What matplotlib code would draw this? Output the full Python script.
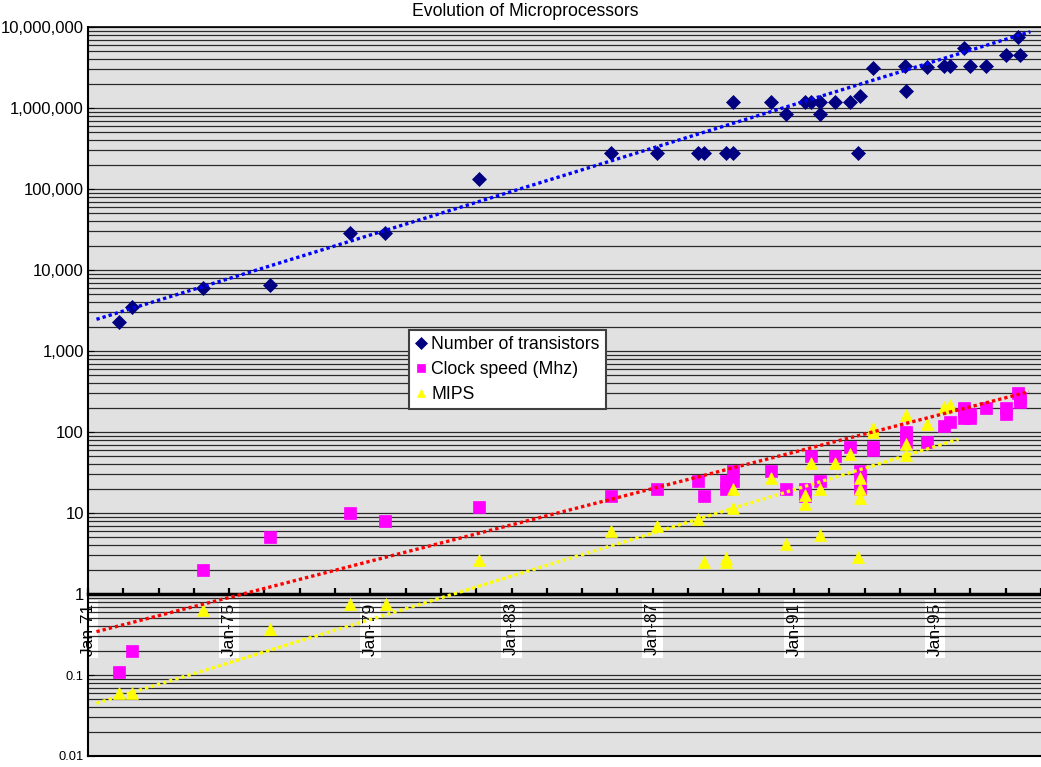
import numpy as np
import matplotlib
matplotlib.use('Agg')
import matplotlib.pyplot as plt
from matplotlib.ticker import FixedLocator, FixedFormatter, LogLocator, MultipleLocator, NullFormatter

plt.rcParams['font.family'] = ['Liberation Sans', 'DejaVu Sans']

# --- data (dates as fractional years) ---
transistor_dates = [1971.88, 1972.26, 1974.25, 1976.17, 1978.43, 1979.42, 1982.09,
                    1985.81, 1987.13, 1988.27, 1988.45, 1989.07, 1989.27, 1989.27,
                    1990.34, 1990.78, 1991.30, 1991.47, 1991.73, 1991.75, 1992.17,
                    1992.60, 1992.81, 1992.86, 1993.23, 1994.16, 1994.18, 1994.77,
                    1995.24, 1995.43, 1995.83, 1996.00, 1996.44, 1997.01, 1997.34,
                    1997.41]
transistor_counts = [2300, 3500, 6000, 6500, 29000, 29000, 134000,
                     275000, 275000, 275000, 275000, 275000, 275000, 1200000,
                     1200000, 855000, 1200000, 1200000, 1200000, 855000, 1200000,
                     1200000, 275000, 1400000, 3100000, 3300000, 1600000, 3200000,
                     3300000, 3300000, 5500000, 3300000, 3300000, 4500000, 7500000,
                     4500000]

clock_dates = [1971.88, 1972.26, 1974.25, 1976.17, 1978.43, 1979.42, 1982.09,
               1985.81, 1987.13, 1988.27, 1988.45, 1989.07, 1989.07, 1989.27,
               1989.27, 1990.36, 1990.78, 1991.30, 1991.30, 1991.47, 1991.73,
               1992.17, 1992.60, 1992.86, 1992.86, 1992.86, 1993.23, 1993.23,
               1994.18, 1994.18, 1994.18, 1994.77, 1995.24, 1995.43, 1995.83,
               1995.83, 1995.83, 1996.00, 1996.00, 1996.44, 1997.01, 1997.01,
               1997.34, 1997.41, 1997.41]
clock_mhz = [0.108, 0.2, 2, 5, 10, 8, 12,
             16, 20, 25, 16, 20, 25, 25,
             33, 33, 20, 16, 20, 50, 25,
             50, 66, 20, 25, 33, 60, 66,
             75, 90, 100, 75, 120, 133, 150,
             180, 200, 150, 166, 200, 166, 200,
             300, 233, 266]

mips_dates = [1971.88, 1972.26, 1974.25, 1976.17, 1978.43, 1979.45, 1982.09,
              1985.81, 1987.13, 1988.27, 1988.45, 1989.07, 1989.07, 1989.27,
              1989.27, 1990.36, 1990.78, 1991.30, 1991.30, 1991.47, 1991.73,
              1991.73, 1992.17, 1992.60, 1992.81, 1992.86, 1992.86, 1992.86,
              1993.23, 1993.23, 1994.18, 1994.18, 1994.18, 1994.77, 1995.24,
              1995.43]
mips_values = [0.06, 0.06, 0.64, 0.37, 0.75, 0.75, 2.66,
               6, 7, 8.5, 2.5, 2.5, 2.8, 11.4,
               20, 27, 4.2, 13, 16.5, 41, 20,
               5.3, 41, 54, 2.9, 15.4, 20, 27,
               100, 112, 52, 72, 162, 126, 205,
               215]

# exponential trendlines as drawn in the original (start / end)
trend_dates_transistors = [1971.24, 1997.70]
trend_values_transistors = [2460, 8.74e6]
trend_dates_clock = [1971.24, 1997.66]
trend_values_clock = [0.343, 314]
trend_dates_mips = [1971.24, 1995.66]
trend_values_mips = [0.0447, 81]

year_ticks = [1971, 1975, 1979, 1983, 1987, 1991, 1995]
year_labels = ['Jan-71', 'Jan-75', 'Jan-79', 'Jan-83', 'Jan-87', 'Jan-91', 'Jan-95']
y_ticks = [0.01, 0.1, 1, 10, 100, 1000, 1e4, 1e5, 1e6, 1e7]
y_labels = ['0.01', '0.1', '1', '10', '100', '1,000', '10,000', '100,000',
            '1,000,000', '10,000,000']

fig = plt.figure(figsize=(10.41, 7.67), dpi=100)
ax = fig.add_axes([88 / 1041, 11 / 767, 953 / 1041, 729 / 767])
ax.set_facecolor('#e1e1e1')

ax.plot(transistor_dates, transistor_counts, 'D', color='#000080', ms=7.5,
        mec='#000080', mew=0.5, label='Number of transistors', zorder=3)
ax.plot(clock_dates, clock_mhz, 's', color='#ff00ff', ms=8,
        mec='#ff00ff', mew=0.5, label='Clock speed (Mhz)', zorder=3)
ax.plot(mips_dates, mips_values, '^', color='#ffff00', ms=8,
        mec='#ffff00', mew=0.5, label='MIPS', zorder=4)

dots = (0, (1, 0.9))
ax.plot(trend_dates_transistors, trend_values_transistors, color='#0000ff', lw=2.4,
        linestyle=dots, zorder=5)
ax.plot(trend_dates_clock, trend_values_clock, color='#ff0000', lw=2.4,
        linestyle=dots, zorder=5)
ax.plot(trend_dates_mips, trend_values_mips, color='#ffff00', lw=2.4,
        linestyle=dots, zorder=5)

# axes scales
ax.set_yscale('log')
ax.set_ylim(0.01, 1e7)
ax.set_xlim(1971.0, 1998.0)

ax.yaxis.set_major_locator(FixedLocator(y_ticks))
ax.yaxis.set_major_formatter(FixedFormatter(y_labels))
ax.yaxis.set_minor_locator(LogLocator(base=10, subs=np.arange(2, 10)))
ax.yaxis.set_minor_formatter(NullFormatter())
ax.yaxis.grid(True, which='both', color='#2a2a2a', lw=0.9)
ax.set_axisbelow(True)
ax.tick_params(axis='y', which='major', direction='in', length=4, labelsize=12, pad=3)
ax.tick_params(axis='y', which='minor', length=0)

ax.xaxis.set_major_locator(FixedLocator(year_ticks))
ax.xaxis.set_major_formatter(FixedFormatter(year_labels))
ax.xaxis.set_minor_locator(MultipleLocator(1))
ax.tick_params(axis='x', which='both', direction='in', length=4, width=1.6)
ax.tick_params(axis='x', which='major', labelrotation=90, labelsize=12.5, pad=6)

# x axis crosses at 1
ax.spines['bottom'].set_position(('data', 1))
ax.spines['bottom'].set_linewidth(2.5)
ax.spines['left'].set_linewidth(1.5)
ax.spines['top'].set_linewidth(1.2)
ax.spines['right'].set_visible(False)
ax.plot([0, 1], [0, 0], transform=ax.transAxes, color='black', lw=1.5, clip_on=False)

leg = ax.legend(loc='upper left', bbox_to_anchor=((409 - 88) / 953, 1 - (330 - 27) / 729),
                borderaxespad=0, fontsize=12.7, frameon=True, fancybox=False,
                framealpha=1, edgecolor='#404040', handlelength=0.7, handletextpad=0.2,
                borderpad=0.35, labelspacing=0.45, markerscale=0.8)
leg.get_frame().set_linewidth(1.5)
leg.set_zorder(10)

fig.text(525 / 1041, 1 - 12 / 767, 'Evolution of Microprocessors',
         ha='center', va='center', fontsize=12.7)

# tick label styling once the ticks exist
fig.canvas.draw()
for lab in ax.get_yticklabels()[:2]:
    lab.set_fontsize(9.3)
for lab in ax.get_xticklabels():
    lab.set_bbox(dict(facecolor='white', edgecolor='none', pad=2))

fig.savefig('out.png', dpi=100)
